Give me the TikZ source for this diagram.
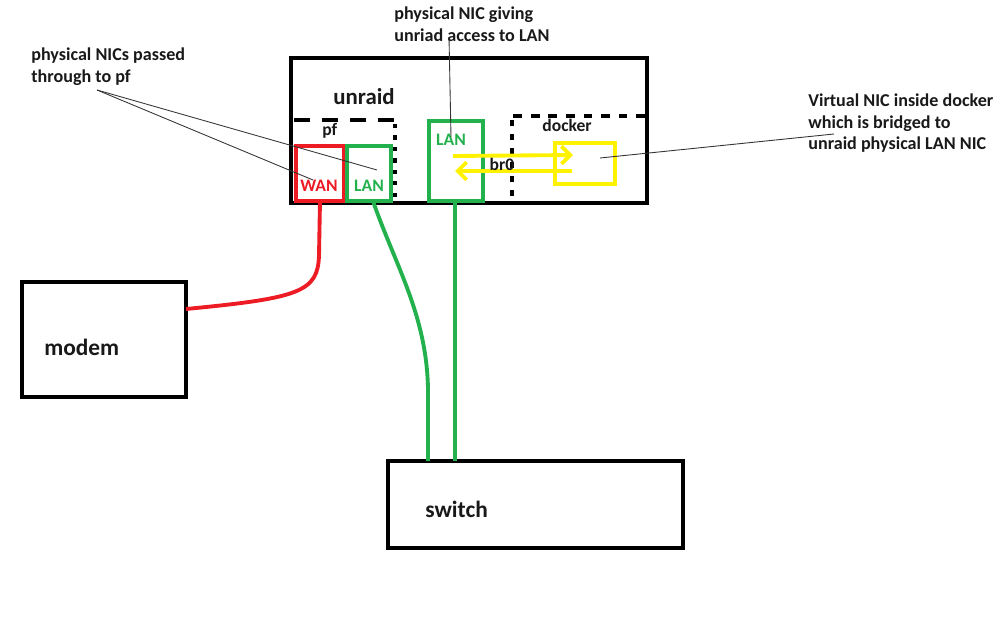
\documentclass[tikz,border=0pt]{standalone}
\usepackage{fontspec}
\setmainfont{Carlito}
\usetikzlibrary{fit,arrows.meta}
\definecolor{nicred}{RGB}{237,28,36}
\definecolor{nicgreen}{RGB}{34,177,76}
\definecolor{nicyellow}{RGB}{255,242,0}
\tikzset{
  box/.style={draw=black, line width=2.3pt, inner sep=0pt},
  nicbox/.style={draw=#1, line width=2.2pt, inner sep=0pt},
  lbl/.style={font=\bfseries\fontsize{10.3}{12.5}\selectfont, inner sep=0pt, align=left, text=black!90},
  mid/.style={font=\bfseries\fontsize{10}{12}\selectfont, inner sep=0pt, text=black!90},
  big/.style={font=\bfseries\fontsize{13}{15}\selectfont, inner sep=0pt, text=black!90},
  call/.style={draw=black!80, line width=0.5pt},
  cable/.style={draw=#1, line width=2.2pt},
  vdash/.style={draw=black, line width=2.3pt},
  yarrow/.style={draw=nicyellow, line width=2.2pt, -{Straight Barb[length=5pt,width=10pt,line width=2.2pt]}},
}
\begin{document}
\begin{tikzpicture}[x=0.02cm,y=-0.02cm]
\useasboundingbox (0,0) rectangle (1000,625);
% unraid outer box
\node[box, fit={(291,58) (647,203)}] (unraid) {};
\node[big, anchor=west] (unraidt) at (333,97) {unraid};
% pf dashed region
\draw[vdash, dash pattern=on 9pt off 7pt] (294,120) -- (396,120);
\draw[vdash, line width=2.5pt, dash pattern=on 2.5pt off 4pt] (395,124) -- (395,201);
\node[mid, anchor=west] (pft) at (322,131) {pf};
% docker dashed region
\draw[vdash, dash pattern=on 5pt off 5pt] (645,116) -- (512,116);
\draw[vdash, dash pattern=on 3.5pt off 4.5pt] (512,120) -- (512,201);
\node[mid] (dockert) at (567,125) {docker};
% NIC boxes
\node[nicbox=nicred, fit={(296,146) (344,201)}] (wan) {};
\node[mid, text=nicred] (want) at (319,186) {WAN};
\node[nicbox=nicgreen, fit={(347,146) (391,201)}] (pflan) {};
\node[mid, text=nicgreen] (pflant) at (369,186) {LAN};
\node[nicbox=nicgreen, fit={(429,121) (483,201)}] (lan) {};
\node[mid, text=nicgreen] (lant) at (451,140) {LAN};
\node[nicbox=nicyellow, fit={(555,143) (615,184)}] (vnic) {};
% br0 arrows
\coordinate (a1s) at (453,156);
\coordinate (a1e) at (573,155);
\coordinate (a2s) at (572,171);
\coordinate (a2e) at (455,171);
\draw[yarrow] (a1s) -- (a1e);
\draw[yarrow] (a2s) -- (a2e);
\node[mid] (br0) at (502,164) {br0};
% modem and switch
\node[box, fit={(22,282) (186,397)}] (modem) {};
\node[big, font=\bfseries\fontsize{13.3}{15}\selectfont, anchor=west] (modemt) at (44,347) {modem};
\node[box, fit={(388,461) (683,548)}] (switch) {};
\node[big, font=\bfseries\fontsize{13.3}{15}\selectfont, anchor=west] (switcht) at (425,509) {switch};
% cables
\coordinate (wanb) at (320,201);
\coordinate (pflanb) at (373,201);
\coordinate (lanb) at (455,201);
\coordinate (modr) at (186,309);
\coordinate (swl) at (428,461);
\coordinate (swr) at (455,461);
\draw[cable=nicred] (wanb) -- (319,255) .. controls (318,292) and (300,298) .. (modr);
\draw[cable=nicgreen] (pflanb) .. controls (395,265) and (427,315) .. (428,390) -- (swl);
\draw[cable=nicgreen] (lanb) -- (swr);
% callouts
\node[lbl, anchor=north west] (t1) at (31,47) {physical NICs passed\\through to pf};
\node[lbl, anchor=north west] (t2) at (394,6) {physical NIC giving\\unriad access to LAN};
\node[lbl, anchor=north west] (t3) at (808,93) {Virtual NIC inside docker\\which is bridged to\\unraid physical LAN NIC};
\coordinate (c1) at (97,90);
\coordinate (c1a) at (377,170);
\coordinate (c1b) at (313,180);
\coordinate (c2) at (449,37);
\coordinate (c2a) at (451,137);
\coordinate (c3) at (834,134);
\coordinate (c3a) at (600,158);
\draw[call] (c1) -- (c1a);
\draw[call] (c1) -- (c1b);
\draw[call] (c2) -- (c2a);
\draw[call] (c3) -- (c3a);
\end{tikzpicture}
\end{document}
